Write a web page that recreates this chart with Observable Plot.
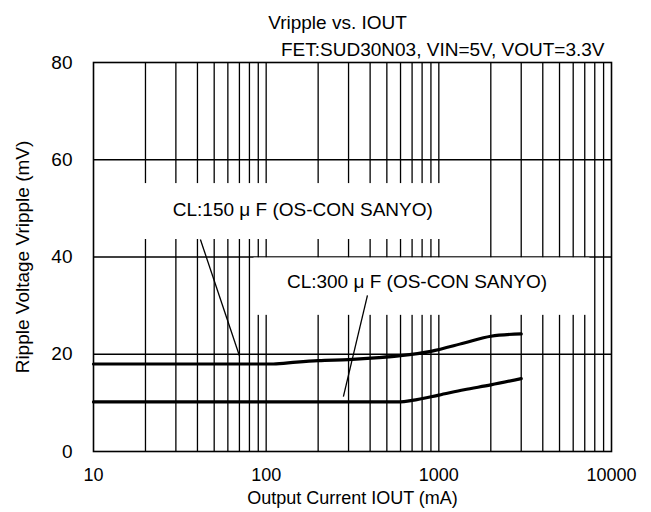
<!DOCTYPE html>
<html><head><meta charset="utf-8">
<script src="https://cdn.jsdelivr.net/npm/d3@7"></script>
<script src="https://cdn.jsdelivr.net/npm/@observablehq/plot@0.6"></script>
<style>body{margin:0;background:#fff}</style>
</head><body><div id="chart"></div>
<script>
// Data
const current150 = [10, 110, 150, 200, 300, 450, 600, 900, 1400, 2000, 3000];
const ripple150  = [18.0, 18.0, 18.4, 18.7, 18.9, 19.3, 19.7, 20.6, 22.3, 23.7, 24.2];
const current300 = [10, 600, 700, 1000, 1400, 2000, 3000];
const ripple300  = [10.2, 10.2, 10.5, 11.6, 12.7, 13.7, 15.0];
const xTicks = [10, 100, 1000, 10000];
const xGrid = [20, 30, 40, 50, 60, 70, 80, 90, 100, 200, 300, 400, 500, 600, 700, 800, 900, 1000, 2000, 3000, 4000, 5000, 6000, 7000, 8000, 9000];
const yTicks = [0, 20, 40, 60, 80];
const yGrid = [20, 40, 60];
const labels = [
  {text: "CL:150 \u03BC F (OS-CON SANYO)", x: 163, y: 49.6, bx1: 10, bx2: 1400, by1: 43.6, by2: 55.1, lx1: 41.6, ly1: 43.6, lx2: 70, ly2: 19.7},
  {text: "CL:300 \u03BC F (OS-CON SANYO)", x: 747, y: 34.8, bx1: 85, bx2: 7500, by1: 28.0, by2: 39.8, lx1: 386, ly1: 32.1, lx2: 280, ly2: 11.3}
];
const title = "Vripple vs. IOUT";
const subtitle = "FET:SUD30N03, VIN=5V, VOUT=3.3V";
const xLabel = "Output Current IOUT (mA)";
const yLabel = "Ripple Voltage Vripple (mV)";

const s150 = current150.map((c, i) => ({c, v: ripple150[i]}));
const s300 = current300.map((c, i) => ({c, v: ripple300[i]}));
const FS = 19;
const FSX = 18;

const chart = Plot.plot({
  width: 651, height: 512,
  marginLeft: 93, marginRight: 40, marginTop: 62, marginBottom: 61,
  style: {fontFamily: "'Liberation Sans', Arial, sans-serif", fontSize: FS + "px", color: "black", background: "white"},
  x: {type: "log", domain: [10, 10000]},
  y: {domain: [0, 80]},
  marks: [
    Plot.ruleX(xGrid, {stroke: "black", strokeWidth: 1.3}),
    Plot.ruleY(yGrid, {stroke: "black", strokeWidth: 1.3}),
    Plot.rect(labels, {x1: "bx1", x2: "bx2", y1: "by1", y2: "by2", fill: "white"}),
    Plot.link(labels, {x1: "lx1", y1: "ly1", x2: "lx2", y2: "ly2", stroke: "black", strokeWidth: 1.3}),
    Plot.text(labels, {x: "x", y: "y", text: "text", fontSize: FS, fill: "black"}),
    Plot.line(s150, {x: "c", y: "v", stroke: "black", strokeWidth: 3.2, curve: "monotone-x"}),
    Plot.line(s300, {x: "c", y: "v", stroke: "black", strokeWidth: 3.2, curve: "monotone-x"}),
    Plot.frame({stroke: "black", strokeWidth: 1.6}),
    Plot.axisX(xTicks, {tickSize: 0, tickPadding: 17, fontSize: FSX, tickFormat: d => String(d), label: null}),
    Plot.axisY(yTicks, {tickSize: 0, tickPadding: 21, fontSize: FS, label: null}),
    Plot.text([title], {frameAnchor: "top", dx: -15, dy: -47, fontSize: FS, fill: "black"}),
    Plot.text([subtitle], {frameAnchor: "top-right", textAnchor: "end", dx: -7, dy: -20, fontSize: FS, fill: "black"}),
    Plot.text([xLabel], {frameAnchor: "bottom", dy: 52, fontSize: FSX, fill: "black"}),
    Plot.text([yLabel], {frameAnchor: "left", textAnchor: "middle", rotate: -90, dx: -71, fontSize: FS, fill: "black"})
  ]
});
document.getElementById("chart").appendChild(chart);
</script>
</body></html>
